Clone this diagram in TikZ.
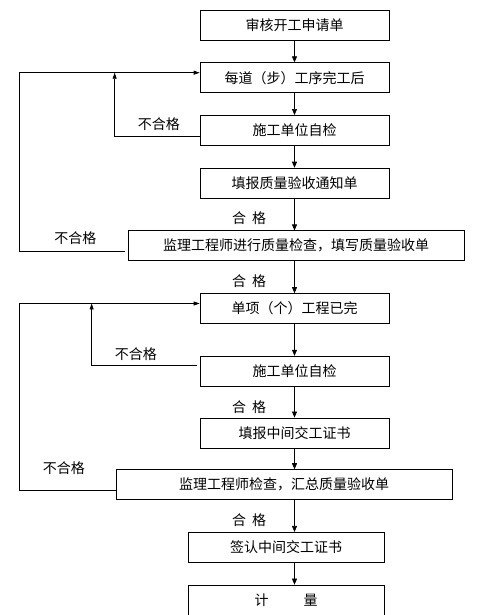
\documentclass[tikz,border=0pt]{standalone}
\usepackage{fontspec}
\setmainfont{Noto Sans CJK SC}
\usetikzlibrary{arrows.meta, positioning}
\tikzset{%
  block/.style={rectangle, draw, minimum width=189pt, minimum height=30pt, inner sep=0pt, font=\fontsize{14}{16}\selectfont},
  wideblock/.style={block, minimum width=336pt},
  narrowblock/.style={block, minimum width=196pt},
  tag/.style={font=\fontsize{14}{16}\selectfont, inner sep=1pt},
  line/.style={draw, -{Triangle[length=6pt, width=5pt]}},
  backline/.style={draw, -{Triangle[length=6pt, width=4pt]}}}

\begin{document}
\begin{tikzpicture}[node distance=22pt, line width=0.7pt]
    \useasboundingbox (0,0) rectangle (495pt,615pt);
    % First stage: every process
    \node (apply) [block] at (294.5pt,590pt) {审核开工申请单};
    \node (process) [block, below=of apply] {每道（步）工序完工后};
    \node (selfA) [block, below=of process] {施工单位自检};
    \node (notice) [block, below=of selfA] {填报质量验收通知单};
    \node (checkA) [wideblock, below=32pt of notice, xshift=1.5pt] {监理工程师进行质量检查，填写质量验收单};
    % Second stage: every item
    \node (item) [block, below=32pt of checkA, xshift=-1.5pt] {单项（个）工程已完};
    \node (selfB) [block, below=32pt of item] {施工单位自检};
    \node (report) [block, below=31pt of selfB] {填报中间交工证书};
    \node (checkB) [wideblock, below=21pt of report, xshift=-10.5pt] {监理工程师检查，汇总质量验收单};
    % Last stage
    \node (sign) [narrowblock, below=32pt of checkB, xshift=2pt] {签认中间交工证书};
    \node (pay) [narrowblock, below=of sign] {计\hspace{35pt}量};
    % Arrows
    \path[line] (apply.south -| apply) -- (process.north -| apply);
    \path[line] (process.south -| apply) -- (selfA.north -| apply);
    \path[line] (selfA.south -| apply) -- (notice.north -| apply);
    \path[line] (notice.south -| apply) -- node[tag, pos=0.62, left=27pt] {合\hspace{6pt}格} (checkA.north -| apply);
    \path[line] (checkA.south -| apply) -- node[tag, pos=0.62, left=27pt] {合\hspace{6pt}格} (item.north -| apply);
    \path[line] (item.south -| apply) -- (selfB.north -| apply);
    \path[line] (selfB.south -| apply) -- node[tag, pos=0.65, left=27pt] {合\hspace{6pt}格} (report.north -| apply);
    \path[line] (report.south -| apply) -- (checkB.north -| apply);
    \path[line] (checkB.south -| apply) -- node[tag, pos=0.62, left=27pt] {合\hspace{6pt}格} (sign.north -| apply);
    \path[line] (sign.south -| apply) -- (pay.north -| apply);
    % Failed checks go back
    \path[backline] ([yshift=-6pt]selfA.west) -| node[tag, pos=0.24, above=4pt] {不合格} ([xshift=-85pt, yshift=5pt]process.west);
    \path[backline] ([xshift=-3pt, yshift=-5.5pt]checkA.west) -- node[tag, pos=0.47, above=5pt] {不合格} ++(-105pt,0) |- ([yshift=5pt]process.west);
    \path[backline] ([xshift=-3pt, yshift=5.5pt]selfB.west) -| node[tag, pos=0.29, above=4pt] {不合格} ([xshift=-108pt, yshift=5pt]item.west);
    \path[backline] ([yshift=-5.5pt]checkB.west) -- node[tag, pos=0.54, above=14pt] {不合格} ++(-96pt,0) |- ([yshift=5pt]item.west);
\end{tikzpicture}
\end{document}
